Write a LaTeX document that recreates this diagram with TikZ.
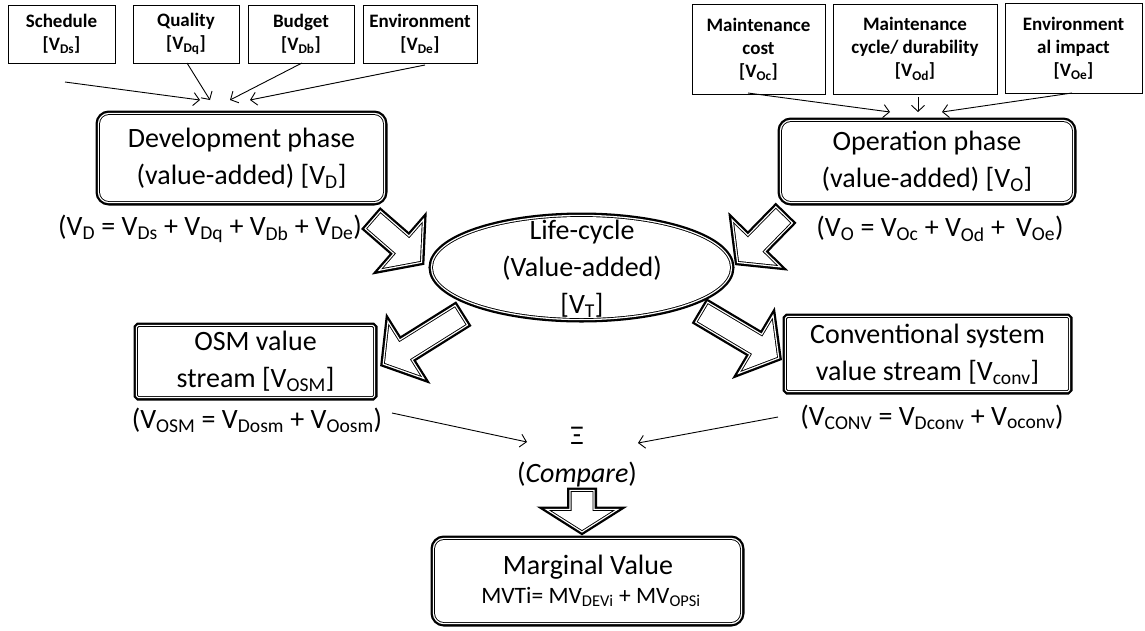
\documentclass[tikz,border=0pt]{standalone}
\usepackage{fontspec}
\setmainfont{Carlito}
\usetikzlibrary{calc,arrows.meta,shapes.geometric}

% thick outer line, thin white gap, thin inner line (compound border)
\tikzset{
  thickthin/.style={
    preaction={draw=black, line width=9pt},
    preaction={draw=white, line width=4.4pt},
    preaction={draw=black, line width=1.8pt},
    fill=white, draw=none},
  bigtext/.style={font=\fontsize{28}{37}\selectfont, align=center},
  phasebox/.style={thickthin, rounded corners=9pt, inner sep=0pt, bigtext},
  streambox/.style={thickthin, rounded corners=1pt, inner sep=0pt, bigtext},
  factorbox/.style={draw, line width=0.8pt, inner sep=0pt, align=center,
    font=\bfseries\fontsize{19}{23}\selectfont},
  eqtext/.style={font=\fontsize{28}{34}\selectfont, inner sep=0pt},
  feed/.style={line width=0.9pt, -{Straight Barb[length=6pt,width=13pt]}},
  blockarrow/.style={thickthin, line join=miter},
}

% hollow block arrow: #1 start, #2 tip, #3 shaft half width, #4 head half width, #5 head length
\newcommand{\hollowarrow}[5]{%
  \coordinate (ha-base) at ($(#2)!#5!(#1)$);
  \path[blockarrow]
    ($(#1)!#3!90:(#2)$) -- ($(ha-base)!#3!-90:(#1)$) -- ($(ha-base)!#4!-90:(#1)$)
    -- (#2) -- ($(ha-base)!#4!90:(#1)$) -- ($(ha-base)!#3!90:(#1)$)
    -- ($(#1)!#3!-90:(#2)$) -- cycle;}

\begin{document}
\begin{tikzpicture}[x=1pt,y=-1pt]
\useasboundingbox (0,0) rectangle (1145,630);

% development factors
\node[factorbox, minimum width=107pt, minimum height=58pt] (sched) at (61.5,34) {Schedule\\{}[V\textsubscript{Ds}]};
\node[factorbox, minimum width=106pt, minimum height=58pt] (qual) at (186,34) {Quality\\{}[V\textsubscript{Dq}]};
\node[factorbox, minimum width=106pt, minimum height=58pt] (budg) at (301,34) {Budget\\{}[V\textsubscript{Db}]};
\node[factorbox, minimum width=114pt, minimum height=58pt] (envd) at (420,34) {Environment\\{}[V\textsubscript{De}]};

% operation factors
\node[factorbox, minimum width=133pt, minimum height=90pt] (cost) at (758.5,49) {Maintenance\\cost\\{}[V\textsubscript{Oc}]};
\node[factorbox, minimum width=164pt, minimum height=90pt] (cycle) at (915,49) {Maintenance\\cycle/ durability\\{}[V\textsubscript{Od}]};
\node[factorbox, minimum width=137pt, minimum height=90pt] (impact) at (1073.5,48) {Environment\\al impact\\{}[V\textsubscript{Oe}]};

% phases
\node[phasebox, minimum width=283pt, minimum height=86pt] (dev) at (241.5,158) {Development phase\\(value-added) [V\textsubscript{D}]};
\node[phasebox, minimum width=290pt, minimum height=79pt] (ops) at (927,161.5) {Operation phase\\(value-added) [V\textsubscript{O}]};

\node[eqtext] (deveq) at (210,229) {(V\textsubscript{D} = V\textsubscript{Ds} + V\textsubscript{Dq} + V\textsubscript{Db} + V\textsubscript{De})};
\node[eqtext] (opseq) at (940,229) {(V\textsubscript{O} = V\textsubscript{Oc} + V\textsubscript{Od} + \,V\textsubscript{Oe})};

% life cycle
\node[thickthin, ellipse, minimum width=297pt, minimum height=101pt, inner sep=0pt] (life) at (581.5,267.5) {};

% value streams
\node[streambox, minimum width=235pt, minimum height=69pt] (osm) at (255.5,361.5) {OSM value\\stream [V\textsubscript{OSM}]};
\node[streambox, minimum width=281pt, minimum height=72pt] (conv) at (927.5,354) {Conventional system\\value stream [V\textsubscript{conv}]};

\node[eqtext] (osmeq) at (257,420) {(V\textsubscript{OSM} = V\textsubscript{Dosm} + V\textsubscript{Oosm})};
\node[eqtext] (conveq) at (932,417) {(V\textsubscript{CONV} = V\textsubscript{Dconv} + V\textsubscript{oconv})};

% comparison
\node[font=\fontsize{27}{30}\selectfont, inner sep=0pt] (xi) at (577,436) {Ξ};
\node[eqtext] (compare) at (577,475) {(\textit{Compare})};

% marginal value
\node[phasebox, minimum width=305pt, minimum height=82pt] (mv) at (587.5,581) {};
\node[font=\fontsize{28}{30}\selectfont, inner sep=0pt] (mvtitle) at (588,567) {Marginal Value};
\node[font=\fontsize{23.5}{26}\selectfont, inner sep=0pt] (mvformula) at (591,597) {MVTi= MV\textsubscript{DEVi} + MV\textsubscript{OPSi}};

% hollow block arrows
\coordinate (devout) at (374,221);
\coordinate (devin) at (420,261);
\coordinate (opsout) at (783,216);
\coordinate (opsin) at (739,261);
\coordinate (lifeosm) at (460,316);
\coordinate (osmin) at (385,363);
\coordinate (lifeconv) at (703,313);
\coordinate (convin) at (777,357);
\coordinate (cmpout) at (582,492);
\coordinate (mvin) at (582,530);
\hollowarrow{devout}{devin}{10pt}{29pt}{23pt}
\hollowarrow{opsout}{opsin}{10pt}{29pt}{23pt}
\hollowarrow{lifeosm}{osmin}{10pt}{29pt}{23pt}
\hollowarrow{lifeconv}{convin}{10pt}{29pt}{23pt}
\hollowarrow{cmpout}{mvin}{10.5pt}{30pt}{19pt}

% text of the life cycle node
\node[bigtext, inner sep=0pt] (lifetext) at (582,269) {Life-cycle\\(Value-added)\\{}[V\textsubscript{T}]};

% feeding arrows
\coordinate (schedfrom) at (65,82);
\coordinate (schedto) at (200,100);
\coordinate (qualfrom) at (187,63);
\coordinate (qualto) at (210,100);
\coordinate (budgfrom) at (302,63);
\coordinate (budgto) at (230,100);
\coordinate (envdfrom) at (425,65);
\coordinate (envdto) at (250,100);
\draw[feed] (schedfrom) -- (schedto);
\draw[feed] (qualfrom) -- (qualto);
\draw[feed] (budgfrom) -- (budgto);
\draw[feed] (envdfrom) -- (envdto);

\coordinate (costfrom) at (748,93);
\coordinate (costto) at (890,112);
\coordinate (cyclefrom) at (918,97);
\coordinate (cycleto) at (918,112);
\coordinate (impactfrom) at (1072,93);
\coordinate (impactto) at (942,112);
\draw[feed] (costfrom) -- (costto);
\draw[feed] (cyclefrom) -- (cycleto);
\draw[feed] (impactfrom) -- (impactto);

\coordinate (osmfrom) at (392,413);
\coordinate (osmto) at (527,442);
\coordinate (convfrom) at (778,417);
\coordinate (convto) at (638,443);
\draw[feed] (osmfrom) -- (osmto);
\draw[feed] (convfrom) -- (convto);
\end{tikzpicture}
\end{document}
